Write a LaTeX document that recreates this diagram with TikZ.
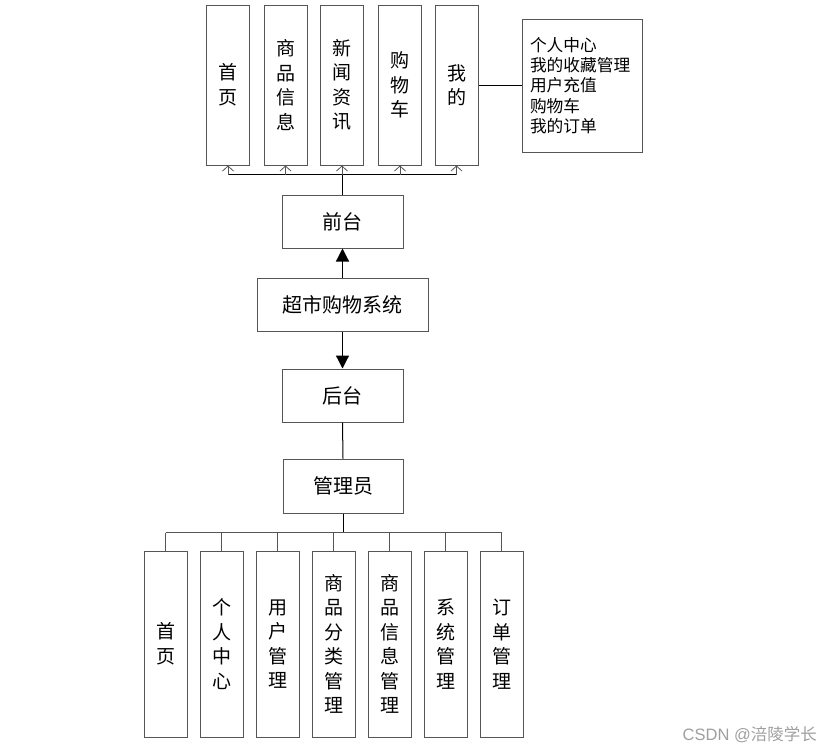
\documentclass[tikz,border=0pt]{standalone}
\usepackage{fontspec}
\setmainfont{Noto Sans CJK SC}
\newfontfamily\wmfont{Liberation Sans}
\newfontfamily\wmcjk{Noto Sans CJK SC}
\usetikzlibrary{arrows.meta}
\definecolor{boxline}{HTML}{555555}
\tikzset{
  x=1pt,y=-1pt,
  box/.style={draw=boxline,line width=1pt,fill=white,inner sep=0pt,align=center,font=\fontsize{19}{24.5}\selectfont},
  tallbox/.style={box,minimum width=43pt,minimum height=160pt},
  lowbox/.style={box,minimum width=43pt,minimum height=186pt},
  midbox/.style={box,font=\fontsize{20}{24}\selectfont,minimum height=53pt},
  conn/.style={draw=black,line width=1pt},
  thinarrow/.style={draw=boxline,line width=0.8pt,-{Straight Barb[length=5pt,width=11pt]}},
  bigarrow/.style={draw=black,line width=1.2pt,-{Triangle[length=13pt,width=13pt]}}
}
\begin{document}
\begin{tikzpicture}
\useasboundingbox (0,0) rectangle (833,753);
% top row
\node[tallbox] (t1) at (228,85) {首\\页};
\node[tallbox] (t2) at (285.5,85) {商\\品\\信\\息};
\node[tallbox] (t3) at (342,85) {新\\闻\\资\\讯};
\node[tallbox] (t4) at (400,85) {购\\物\\车};
\node[tallbox] (t5) at (456.5,85) {我\\的};
\node[box,minimum width=120pt,minimum height=133pt,text width=104pt,inner xsep=8pt,align=left,font=\fontsize{16.7}{20.3}\selectfont] (mine) at (582,85.5) {个人中心\\我的收藏管理\\用户充值\\购物车\\我的订单};
\draw[conn] (t5.east |- 0,85) -- (mine.west |- 0,85);
% middle column
\node[midbox,minimum width=121pt] (qt) at (342.5,221.5) {前台};
\node[midbox,minimum width=171pt] (sys) at (342.5,304.5) {超市购物系统};
\node[midbox,minimum width=121pt] (ht) at (342.5,395.5) {后台};
\node[midbox,minimum width=120pt,minimum height=54pt] (gly) at (343,486) {管理员};
\draw[conn] (qt.north) -- ++(0,-20) coordinate (tb);
\draw[conn] (tb -| t1) -- (tb -| t5);
\foreach \k in {t1,t2,t3,t4,t5} \draw[thinarrow] (tb -| \k) -- (\k.south);
\draw[bigarrow] (sys.north) -- (qt.south);
\draw[bigarrow] (sys.south) -- (ht.north);
\draw[conn] (ht.south) -- (gly.north);
% bottom row
\node[lowbox] (b1) at (165.5,644) {首\\页};
\node[lowbox] (b2) at (221.5,644) {个\\人\\中\\心};
\node[lowbox] (b3) at (277.5,644) {用\\户\\管\\理};
\node[lowbox] (b4) at (333.5,644) {商\\品\\分\\类\\管\\理};
\node[lowbox] (b5) at (389.5,644) {商\\品\\信\\息\\管\\理};
\node[lowbox] (b6) at (445.5,644) {系\\统\\管\\理};
\node[lowbox] (b7) at (501.5,644) {订\\单\\管\\理};
\draw[conn] (gly.south) -- ++(0,19) coordinate (bb);
\draw[draw=boxline,line width=1pt] (bb -| b1) -- (bb -| b7);
\foreach \k in {b1,b2,b3,b4,b5,b6,b7} \draw[draw=boxline,line width=1pt] (bb -| \k) -- (\k.north);
% watermark
\node[anchor=east,text=gray!75,font=\fontsize{16.5}{18}\selectfont,inner sep=0pt] (wm) at (817,735) {{\wmfont CSDN @}{\wmcjk 涪陵学长}};
\end{tikzpicture}
\end{document}
